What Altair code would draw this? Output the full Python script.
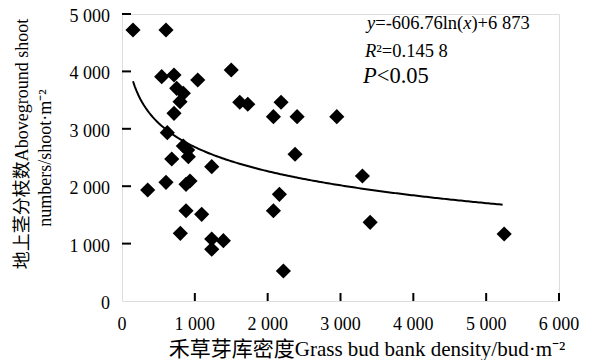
import altair as alt
import pandas as pd

# ---- data ----
bud_density = [151, 604, 545, 714, 1040, 1500, 751, 842, 797, 714,
               1617, 1727, 2184, 2079, 2404, 2949, 2376, 1232, 3301, 2161,
               2079, 3407, 1094, 1232, 1392, 1232, 2216, 5247, 622, 842,
               902, 683, 911, 353, 604, 879, 934, 879, 801]
shoot_numbers = [4721, 4721, 3908, 3937, 3850, 4024, 3705, 3618, 3472, 3270,
                 3462, 3427, 3462, 3211, 3211, 3211, 2556, 2340, 2178, 1859,
                 1573, 1371, 1510, 1080, 1051, 901, 523, 1167, 2932, 2700,
                 2630, 2474, 2514, 1934, 2068, 2033, 2091, 1573, 1179]

fit_slope = -606.76
fit_intercept = 6873

x_tick_values = [0, 1000, 2000, 3000, 4000, 5000, 6000]
x_tick_labels = ["0", "1 000", "2 000", "3 000", "4 000", "5 000", "6 000"]
y_tick_values = [0, 1000, 2000, 3000, 4000, 5000]
y_tick_labels = ["0", "1 000", "2 000", "3 000", "4 000", "5 000"]

x_title = "禾草芽库密度Grass bud bank density/bud·m⁻²"
y_title_1 = "地上茎分枝数Aboveground shoot"
y_title_2 = "numbers/shoot·m⁻²"

df = pd.DataFrame({"x": bud_density, "y": shoot_numbers})
xt_df = pd.DataFrame({"v": x_tick_values, "lab": x_tick_labels})
yt_df = pd.DataFrame({"v": y_tick_values, "lab": y_tick_labels})

W, H = 437, 287
FONT = "Liberation Serif"
CJK_FONT = "'Liberation Serif', 'Noto Sans CJK SC', serif"
LBL = 18

xs = alt.Scale(domain=[0, 6000], nice=False, zero=True)
ys = alt.Scale(domain=[0, 5000], nice=False, zero=True)

ax_common = dict(ticks=False, grid=False, labels=False, title=None,
                 domainColor="black", domainWidth=2)

points = alt.Chart(df).mark_point(
    shape="diamond", filled=True, color="black", size=230, opacity=1
).encode(
    x=alt.X("x:Q", scale=xs, axis=alt.Axis(**ax_common)),
    y=alt.Y("y:Q", scale=ys, axis=alt.Axis(**ax_common)),
)

xmin, xmax = min(bud_density), max(bud_density)
curve = alt.Chart(alt.sequence(xmin, xmax + 1, 25, as_="x")).transform_calculate(
    y=f"{fit_slope}*log(datum.x)+{fit_intercept}"
).mark_line(color="black", strokeWidth=2).encode(
    x=alt.X("x:Q", scale=xs, axis=None),
    y=alt.Y("y:Q", scale=ys, axis=None),
)

# inward tick marks
xt = alt.Chart(xt_df).transform_filter("datum.v > 0").mark_rule(
    color="black", strokeWidth=2).encode(
    x=alt.X("v:Q", scale=xs, axis=None), y=alt.value(H), y2=alt.value(H - 8))
yt = alt.Chart(yt_df).transform_filter("datum.v > 0").mark_rule(
    color="black", strokeWidth=2).encode(
    y=alt.Y("v:Q", scale=ys, axis=None), x=alt.value(0), x2=alt.value(9))

# tick labels
xl = alt.Chart(xt_df).mark_text(
    font=FONT, fontSize=LBL, color="black", align="center", baseline="alphabetic"
).encode(x=alt.X("v:Q", scale=xs, axis=None), y=alt.value(H + 29), text="lab:N")
yl = alt.Chart(yt_df).mark_text(
    font=FONT, fontSize=LBL, color="black", align="right", baseline="middle", dy=3
).encode(y=alt.Y("v:Q", scale=ys, axis=None), x=alt.value(-12), text="lab:N")

def label(txt, x, y, size, angle=0):
    return alt.Chart(pd.DataFrame({"t": [txt]})).mark_text(
        font=CJK_FONT, fontSize=size, color="black", align="center",
        baseline="middle", angle=angle
    ).encode(text="t:N", x=alt.value(x), y=alt.value(y))

titles = [
    label(x_title, 245, 336, 21),
    label(y_title_1, -99, 130, 18, 270),
    label(y_title_2, -76, 144, 18, 270),
]

# Times-like advance widths (per em) for laying out mixed italic text
ADV = {"y": .444, "x": .444, "R": .611, "P": .611, "=": .564, "-": .333, ".": .25,
       "l": .278, "n": .5, "(": .333, ")": .333, "+": .564, " ": .25, "<": .564, "²": .3}
def w(s, size):
    return sum(ADV.get(c, .5) for c in s) * size

def line(pieces, x0, yb, size):
    out = []
    x = x0
    for txt, it in pieces:
        out.append(alt.Chart(pd.DataFrame({"t": [txt]})).mark_text(
            align="left", baseline="alphabetic", font=FONT, fontSize=size,
            fontStyle="italic" if it else "normal", color="black"
        ).encode(text="t:N", x=alt.value(x), y=alt.value(yb)))
        x += w(txt, size)
    return out

eq_size = 18.5
ann = []
ann += line([("y", True), ("=-606.76ln(", False), ("x", True), (")+6 873", False)], 245, 15, eq_size)
ann += line([("R", True), ("²", False), ("=0.145 8", False)], 243, 43, eq_size)
ann += line([("P", True), ("<0.05", False)], 241, 69, 22.5)

chart = alt.layer(points, curve, xt, yt, xl, yl, *titles, *ann).properties(
    width=W, height=H,
    padding={"left": 122, "top": 14, "right": 36, "bottom": 59},
    autosize=alt.AutoSizeParams(type="none"),
).configure_view(stroke=None).configure(background="white")

chart.save("out.html", embed_options={"renderer": "svg", "actions": False})
